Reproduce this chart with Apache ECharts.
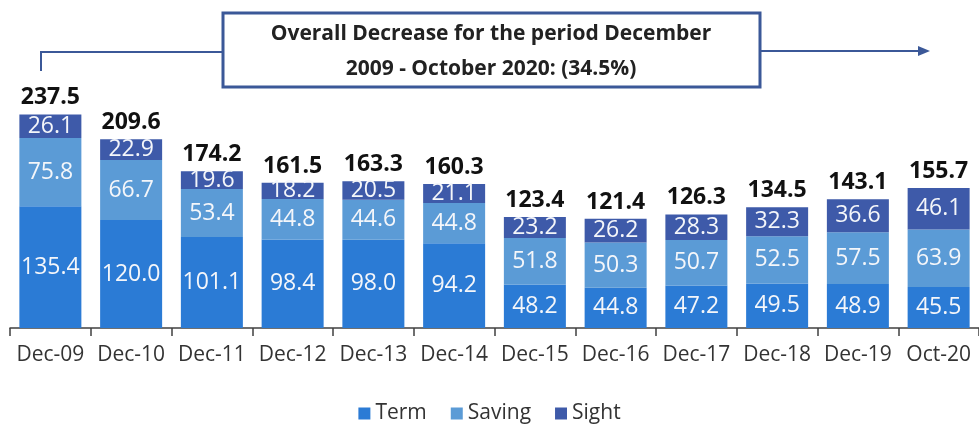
<!DOCTYPE html>
<html>
<head>
<meta charset="utf-8">
<script src="https://cdn.jsdelivr.net/npm/echarts@6/dist/echarts.min.js"></script>
<style>
  html, body { margin: 0; padding: 0; background: #fff; }
  #chart { width: 979px; height: 425px; }
</style>
</head>
<body>
<div id="chart"></div>
<script>
const categories = ["Dec-09", "Dec-10", "Dec-11", "Dec-12", "Dec-13", "Dec-14",
  "Dec-15", "Dec-16", "Dec-17", "Dec-18", "Dec-19", "Oct-20"];
const term = [135.4, 120.0, 101.1, 98.4, 98.0, 94.2, 48.2, 44.8, 47.2, 49.5, 48.9, 45.5];
const saving = [75.8, 66.7, 53.4, 44.8, 44.6, 44.8, 51.8, 50.3, 50.7, 52.5, 57.5, 63.9];
const sight = [26.1, 22.9, 19.6, 18.2, 20.5, 21.1, 23.2, 26.2, 28.3, 32.3, 36.6, 46.1];
const totals = [237.5, 209.6, 174.2, 161.5, 163.3, 160.3, 123.4, 121.4, 126.3, 134.5, 143.1, 155.7];

const font = "'Open Sans', sans-serif";
const boxColor = "#3b5898";

const innerLabel = {
  show: true,
  position: "inside",
  color: "#f4f6fa",
  fontSize: 23,
  fontFamily: font,
  formatter: p => p.value.toFixed(1)
};

function part(name, data, color) {
  return {
    name: name,
    type: "bar",
    stack: "dep",
    data: data,
    barWidth: 62,
    itemStyle: { color: color },
    label: innerLabel,
    emphasis: { disabled: true }
  };
}

const chart = echarts.init(document.getElementById("chart"));
chart.setOption({
  animation: false,
  textStyle: { fontFamily: font },
  grid: { left: 10, top: 94, width: 972, height: 234 },
  xAxis: {
    type: "category",
    data: categories,
    axisLine: { lineStyle: { color: "#404040", width: 1.5 } },
    axisTick: { show: true, interval: 0, length: 8, lineStyle: { color: "#404040", width: 1.5 } },
    axisLabel: { interval: 0, color: "#333", fontSize: 21, fontFamily: font, margin: 17 }
  },
  yAxis: { type: "value", min: 0, max: 260, show: false, splitLine: { show: false } },
  legend: {
    data: ["Term", "Saving", "Sight"],
    bottom: -4,
    left: "center",
    itemWidth: 12,
    itemHeight: 12,
    itemGap: 24,
    icon: "rect",
    textStyle: { fontSize: 21, color: "#333", fontFamily: font }
  },
  series: [
    part("Term", term, "#2b7bd5"),
    part("Saving", saving, "#5b9bd6"),
    part("Sight", sight, "#3e5aa9"),
    {
      name: "Total",
      type: "bar",
      data: totals,
      barWidth: 62,
      barGap: "-100%",
      z: 1,
      itemStyle: { color: "rgba(0,0,0,0)" },
      label: {
        show: true,
        position: "top",
        distance: 5,
        color: "#111",
        fontSize: 23,
        fontWeight: "bold",
        fontFamily: font,
        formatter: p => p.value.toFixed(1)
      },
      emphasis: { disabled: true },
      silent: true
    }
  ],
  graphic: [
    {
      type: "polyline",
      shape: { points: [[41, 71], [41, 52], [223, 52]] },
      style: { stroke: boxColor, lineWidth: 2, fill: null }
    },
    {
      type: "line",
      shape: { x1: 760, y1: 51, x2: 920, y2: 51 },
      style: { stroke: boxColor, lineWidth: 2 }
    },
    {
      type: "polygon",
      shape: { points: [[918, 46], [930, 51], [918, 56]] },
      style: { fill: boxColor }
    },
    {
      type: "rect",
      shape: { x: 223, y: 13, width: 537, height: 74 },
      style: { fill: "#fff", stroke: boxColor, lineWidth: 3 }
    },
    {
      type: "text",
      x: 491,
      y: 52,
      style: {
        text: "Overall Decrease for the period December\n2009 - October 2020: (34.5%)",
        fill: "#222",
        font: "bold 21px " + font,
        align: "center",
        verticalAlign: "middle",
        lineHeight: 35
      }
    }
  ]
});
</script>
</body>
</html>
